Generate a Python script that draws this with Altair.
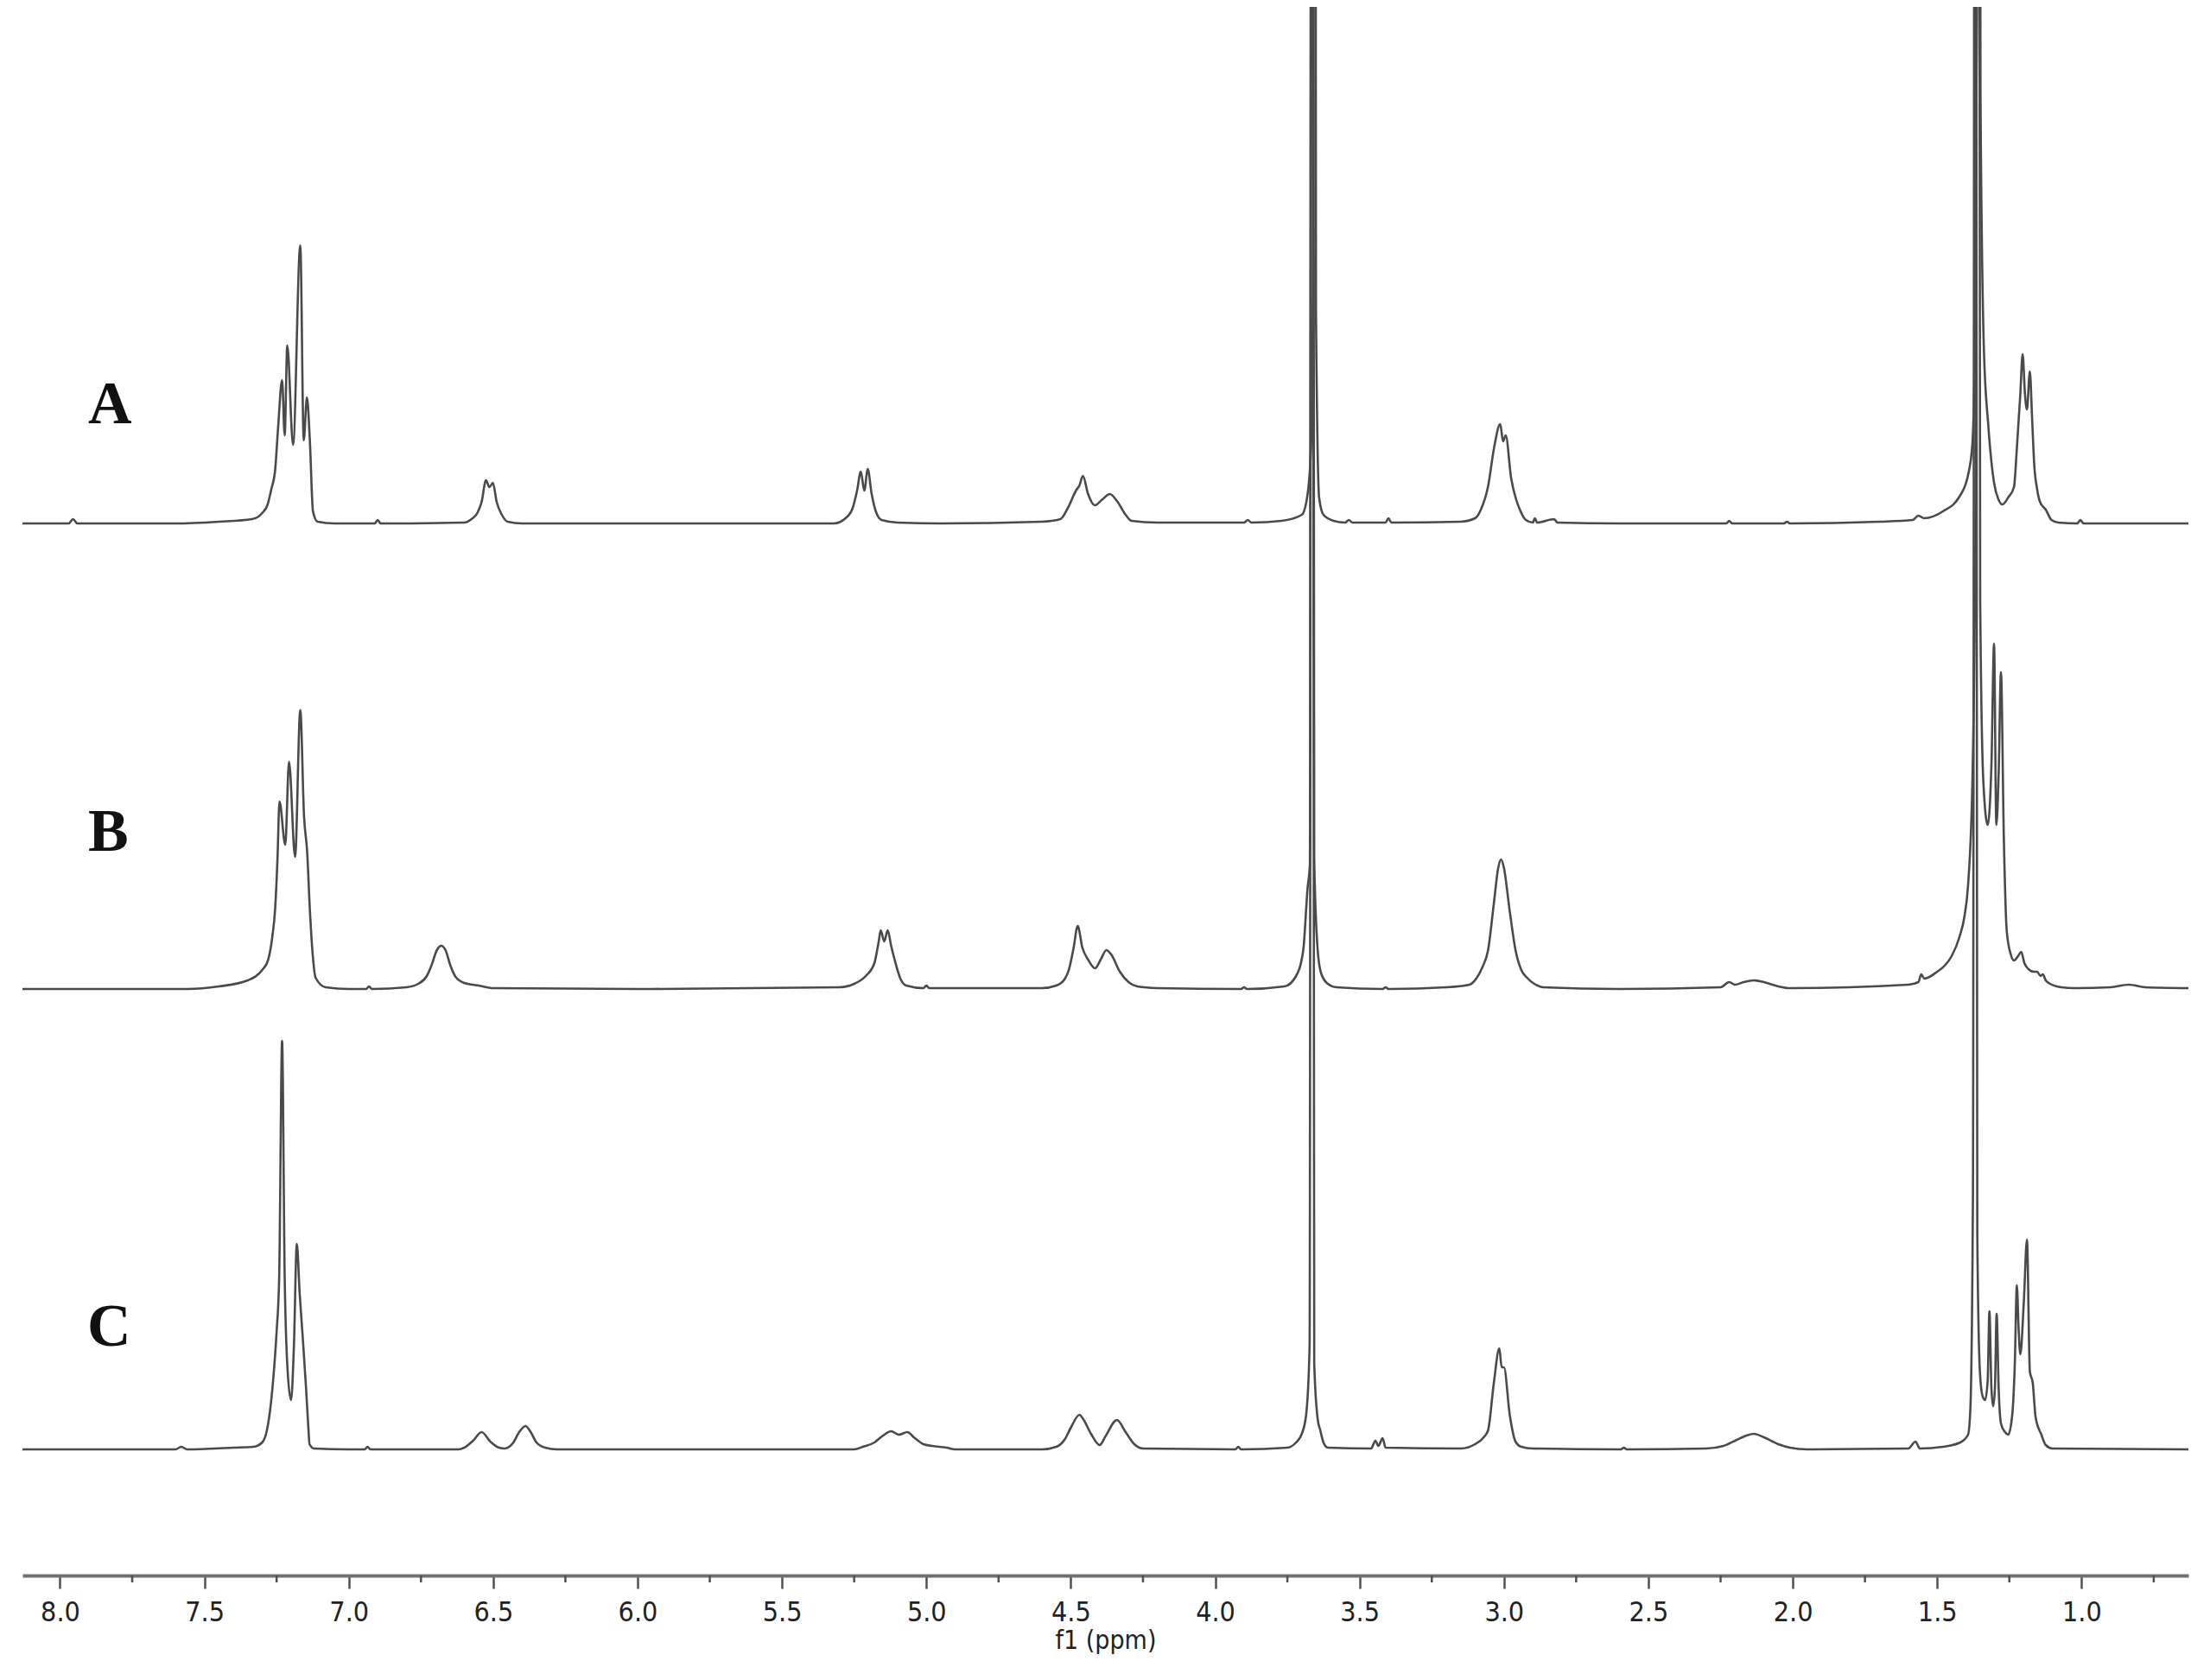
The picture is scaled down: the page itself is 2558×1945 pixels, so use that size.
import altair as alt
import pandas as pd

# ---- spectrum traces: (chemical shift ppm, intensity in arbitrary units) ----
A_points = [
    (8.13, 0), (7.97, 0), (7.955, 5), (7.94, 0), (7.60, 0), (7.45, 2), (7.335, 5), (7.30, 12),
    (7.282, 21), (7.268, 40), (7.255, 62), (7.245, 110), (7.231, 166), (7.222, 102), (7.213, 206),
    (7.193, 91), (7.168, 322), (7.156, 96), (7.145, 146), (7.135, 97), (7.124, 14), (7.108, 2),
    (7.05, 0), (6.91, 0), (6.90, 4), (6.89, 0), (6.60, 1), (6.575, 5), (6.555, 12), (6.54, 25),
    (6.525, 50), (6.513, 42), (6.501, 47), (6.488, 25), (6.47, 10), (6.45, 2), (6.40, 0),
    (5.32, 0), (5.28, 6), (5.255, 18), (5.24, 38), (5.227, 60), (5.215, 38), (5.203, 63),
    (5.19, 35), (5.175, 14), (5.155, 4), (5.10, 1), (4.95, 0), (4.60, 2), (4.536, 5), (4.51, 18),
    (4.482, 38), (4.47, 44), (4.458, 55), (4.44, 34), (4.417, 21), (4.39, 28), (4.365, 34),
    (4.34, 26), (4.31, 10), (4.29, 3), (4.20, 1), (3.90, 1), (3.887, 4), (3.875, 1), (3.77, 3),
    (3.70, 10), (3.68, 34), (3.668, 90), (3.661, 300), (3.656, 3000), (3.651, 250), (3.64, 30),
    (3.625, 10), (3.59, 3), (3.55, 1), (3.537, 4), (3.525, 1), (3.41, 1), (3.40, 6), (3.39, 1),
    (3.15, 2), (3.10, 6), (3.08, 16), (3.055, 43), (3.034, 88), (3.013, 115), (3.003, 95),
    (2.994, 102), (2.975, 52), (2.958, 28), (2.945, 16), (2.924, 4), (2.90, 1), (2.893, 6),
    (2.885, 1), (2.826, 5), (2.815, 1), (2.60, 0), (2.23, 0), (2.22, 3), (2.21, 0), (2.03, 0),
    (2.02, 2), (2.01, 0), (1.70, 2), (1.585, 4), (1.565, 9), (1.545, 6), (1.48, 14), (1.423, 31),
    (1.393, 56), (1.378, 92), (1.370, 200), (1.362, 600), (1.357, 3000), (1.350, 500),
    (1.338, 200), (1.323, 114), (1.303, 47), (1.288, 28), (1.274, 22), (1.254, 30), (1.234, 42),
    (1.224, 87), (1.212, 150), (1.204, 196), (1.196, 150), (1.189, 132), (1.179, 176),
    (1.171, 120), (1.164, 69), (1.154, 40), (1.144, 25), (1.124, 16), (1.104, 4), (1.08, 1),
    (1.015, 0), (1.004, 4), (0.993, 0), (0.63, 0),
]

B_points = [
    (8.13, 0), (7.56, 0), (7.45, 3), (7.35, 10), (7.30, 22), (7.28, 33), (7.265, 60), (7.255, 93),
    (7.247, 150), (7.24, 217), (7.22, 167), (7.207, 263), (7.186, 153), (7.168, 323), (7.155, 200),
    (7.144, 158), (7.135, 93), (7.125, 40), (7.115, 13), (7.08, 2), (7.0, 0), (6.94, 0),
    (6.93, 3), (6.92, 0), (6.80, 2), (6.76, 6), (6.73, 15), (6.714, 27), (6.695, 45), (6.68, 50),
    (6.665, 45), (6.648, 27), (6.63, 14), (6.60, 7), (6.55, 4), (6.50, 1), (6.0, 0), (5.30, 2),
    (5.25, 6), (5.21, 15), (5.18, 30), (5.165, 55), (5.158, 68), (5.146, 55), (5.134, 68),
    (5.122, 50), (5.11, 34), (5.09, 12), (5.07, 4), (5.01, 1), (5.0, 4), (4.99, 1), (4.60, 1),
    (4.55, 4), (4.52, 12), (4.506, 23), (4.49, 48), (4.476, 73), (4.46, 48), (4.44, 34),
    (4.416, 24), (4.395, 35), (4.377, 45), (4.36, 40), (4.33, 20), (4.30, 8), (4.27, 3),
    (4.20, 1), (3.91, 0), (3.90, 2), (3.89, 0), (3.76, 3), (3.72, 15), (3.695, 45), (3.68, 117),
    (3.672, 144), (3.665, 3000), (3.657, 150), (3.645, 45), (3.633, 18), (3.61, 6), (3.58, 2),
    (3.42, 0), (3.41, 2), (3.40, 0), (3.20, 2), (3.12, 5), (3.094, 13), (3.075, 25), (3.055, 45),
    (3.035, 99), (3.02, 140), (3.01, 150), (3.0, 140), (2.98, 90), (2.96, 45), (2.94, 22),
    (2.92, 13), (2.895, 6), (2.865, 2), (2.60, 0), (2.25, 2), (2.22, 8), (2.20, 5), (2.17, 8),
    (2.135, 10), (2.10, 8), (2.05, 3), (2.01, 1), (1.60, 5), (1.565, 8), (1.555, 17),
    (1.545, 12), (1.50, 20), (1.474, 27), (1.45, 38), (1.423, 60), (1.405, 85), (1.393, 120),
    (1.378, 240), (1.366, 600), (1.360, 3000), (1.351, 450), (1.340, 240), (1.325, 190),
    (1.312, 260), (1.303, 400), (1.295, 190), (1.287, 250), (1.279, 367), (1.269, 173),
    (1.259, 67), (1.245, 40), (1.234, 33), (1.22, 38), (1.209, 43), (1.198, 30), (1.184, 23),
    (1.165, 20), (1.154, 20), (1.142, 15), (1.134, 17), (1.124, 10), (1.114, 7), (1.07, 2),
    (1.024, 1), (0.90, 2), (0.836, 5), (0.78, 2), (0.63, 1),
]

C_points = [
    (8.13, 0), (7.60, 0), (7.58, 3), (7.56, 0), (7.40, 2), (7.33, 3), (7.30, 8), (7.285, 20),
    (7.273, 44), (7.262, 80), (7.25, 136), (7.241, 200), (7.231, 473), (7.222, 200),
    (7.213, 98), (7.20, 57), (7.19, 120), (7.18, 238), (7.17, 180), (7.16, 132), (7.148, 71),
    (7.14, 25), (7.136, 6), (7.12, 1), (7.0, 0), (6.945, 0), (6.935, 3), (6.925, 0), (6.62, 0),
    (6.60, 2), (6.57, 10), (6.54, 20), (6.51, 9), (6.48, 2), (6.46, 1), (6.43, 8), (6.41, 20),
    (6.388, 27), (6.37, 20), (6.35, 8), (6.32, 2), (6.28, 0), (5.25, 0), (5.22, 3), (5.18, 8),
    (5.15, 16), (5.122, 21), (5.095, 17), (5.066, 20), (5.04, 13), (5.01, 6), (4.98, 4),
    (4.93, 2), (4.90, 0), (4.60, 0), (4.55, 3), (4.52, 12), (4.50, 25), (4.47, 40), (4.455, 34),
    (4.43, 18), (4.40, 5), (4.38, 15), (4.34, 34), (4.31, 20), (4.28, 6), (4.25, 1), (3.93, 0),
    (3.92, 3), (3.91, 0), (3.75, 2), (3.72, 8), (3.70, 18), (3.685, 40), (3.673, 120),
    (3.665, 3000), (3.657, 100), (3.645, 35), (3.636, 22), (3.625, 8), (3.61, 2), (3.46, 1),
    (3.445, 10), (3.435, 4), (3.42, 13), (3.41, 2), (3.15, 1), (3.10, 6), (3.07, 14),
    (3.055, 22), (3.035, 77), (3.016, 117), (3.008, 95), (3.0, 95), (2.98, 40), (2.96, 9),
    (2.94, 3), (2.90, 1), (2.595, 0), (2.585, 2), (2.575, 0), (2.30, 1), (2.24, 4), (2.20, 10),
    (2.16, 16), (2.135, 18), (2.10, 14), (2.05, 6), (2.01, 2), (1.95, 0), (1.60, 1),
    (1.575, 9), (1.56, 1), (1.48, 3), (1.42, 8), (1.393, 17), (1.385, 47), (1.376, 300),
    (1.368, 3000), (1.361, 250), (1.352, 90), (1.343, 62), (1.334, 57), (1.325, 80),
    (1.319, 160), (1.312, 70), (1.306, 50), (1.300, 70), (1.294, 157), (1.287, 70), (1.279, 30),
    (1.265, 20), (1.254, 17), (1.24, 40), (1.231, 100), (1.224, 190), (1.218, 140), (1.212, 110),
    (1.20, 170), (1.189, 243), (1.179, 90), (1.169, 77), (1.159, 37), (1.139, 17), (1.124, 5),
    (1.10, 1), (0.63, 0),
]

spectrum_names = ["A", "B", "C"]
spectrum_offsets = [1218, 679, 146]          # vertical stacking of the three traces
label_ppm = [7.827, 7.833, 7.830]            # where the A/B/C letters sit
label_level = [1334, 839, 266]

major_ticks = [8.0, 7.5, 7.0, 6.5, 6.0, 5.5, 5.0, 4.5, 4.0, 3.5, 3.0, 2.5, 2.0, 1.5, 1.0]
minor_ticks = [7.75, 7.25, 6.75, 6.25, 5.75, 5.25, 4.75, 4.25, 3.75, 3.25, 2.75, 2.25, 1.75, 1.25, 0.75]

# ---- build tables ----
rows = []
for name, pts, off in zip(spectrum_names, [A_points, B_points, C_points], spectrum_offsets):
    for ppm, inten in pts:
        rows.append({"spectrum": name, "ppm": ppm, "intensity": inten, "level": inten + off})
df = pd.DataFrame(rows)

labels_df = pd.DataFrame({"name": spectrum_names, "ppm": label_ppm, "level": label_level})
minor_df = pd.DataFrame({"ppm": minor_ticks})

W, H = 2507, 1816
x_scale = alt.Scale(domain=[8.13, 0.63], nice=False, zero=False)
y_scale = alt.Scale(domain=[0, H], nice=False, zero=False)

AXIS_FONT = "Liberation Sans Narrow, DejaVu Sans Condensed, Liberation Sans, sans-serif"

x_axis = alt.Axis(
    values=major_ticks,
    format=".1f",
    title="f1 (ppm)",
    grid=False,
    domainColor="#707070",
    domainWidth=4,
    tickColor="#505050",
    tickWidth=2.5,
    tickSize=15,
    labelFont=AXIS_FONT,
    labelFontSize=32,
    labelColor="#222222",
    labelPadding=12,
    labelFlush=False,
    titleFont=AXIS_FONT,
    titleFontSize=30,
    titleFontWeight="normal",
    titleColor="#222222",
    titlePadding=2,
)

x_enc = alt.X("ppm:Q", scale=x_scale, axis=x_axis)

lines = alt.Chart(df).mark_line(
    color="#4a4a4a", strokeWidth=2.6, clip=True, interpolate="monotone", strokeJoin="round"
).encode(
    x=x_enc,
    y=alt.Y("level:Q", scale=y_scale, axis=None),
    detail="spectrum:N",
    order=alt.Order("ppm:Q", sort="descending"),
)

minor = alt.Chart(minor_df).mark_rule(color="#505050", strokeWidth=2.5).encode(
    x=x_enc,
    y=alt.value(H),
    y2=alt.value(H + 8),
)

letters = alt.Chart(labels_df).mark_text(
    font="Liberation Serif, DejaVu Serif, serif",
    fontWeight="bold",
    fontSize=70,
    color="#111111",
    align="center",
    baseline="alphabetic",
).encode(
    x=x_enc,
    y=alt.Y("level:Q", scale=y_scale, axis=None),
    text="name:N",
)

chart = (
    alt.layer(lines, minor, letters)
    .properties(width=W, height=H, padding={"left": 18, "top": 0, "right": 10, "bottom": 5},
                background="white")
    .configure_view(stroke=None)
)

chart.save("out.html", embed_options={"renderer": "svg", "actions": False})
